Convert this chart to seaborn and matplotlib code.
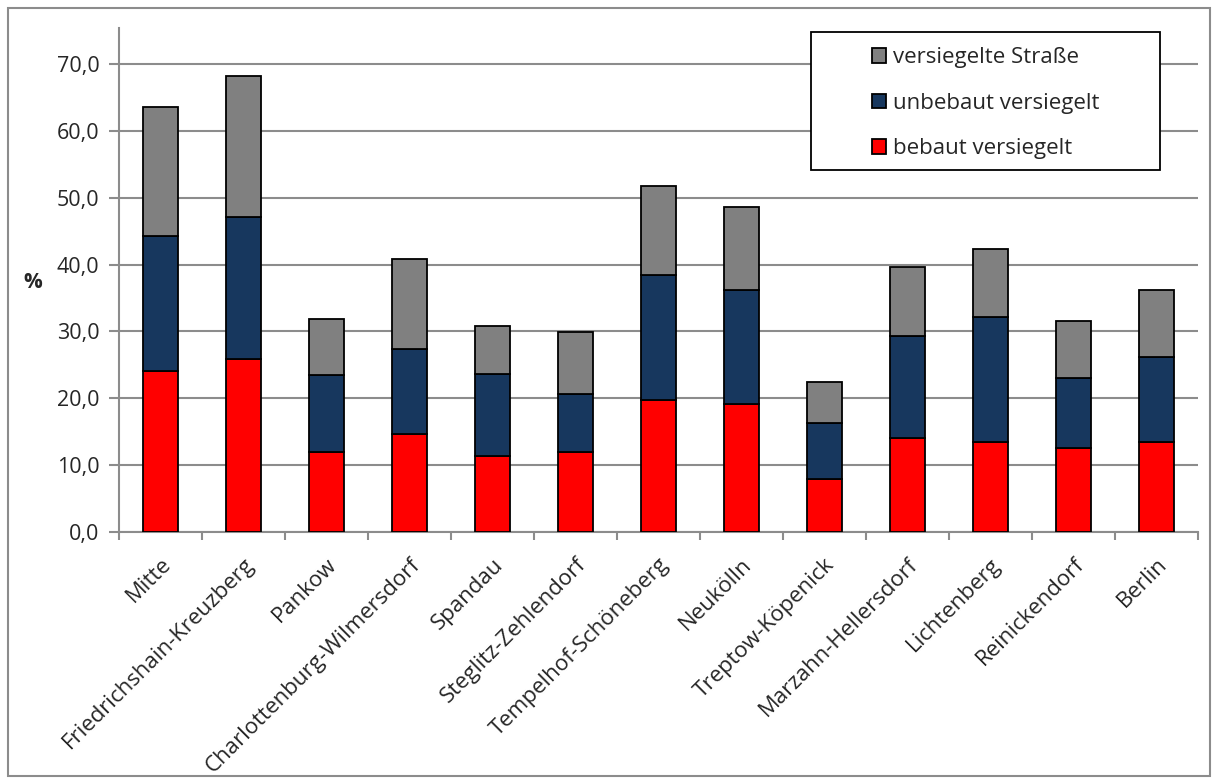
import matplotlib
matplotlib.use('Agg')
import matplotlib.pyplot as plt
from matplotlib.patches import Rectangle
import seaborn as sns
import numpy as np

# Daten (Anteile in %)
bezirke = ['Mitte', 'Friedrichshain-Kreuzberg', 'Pankow', 'Charlottenburg-Wilmersdorf',
           'Spandau', 'Steglitz-Zehlendorf', 'Tempelhof-Schöneberg', 'Neukölln',
           'Treptow-Köpenick', 'Marzahn-Hellersdorf', 'Lichtenberg', 'Reinickendorf', 'Berlin']
bebaut = [24.0, 25.8, 12.0, 14.6, 11.4, 12.0, 19.8, 19.2, 7.9, 14.0, 13.4, 12.6, 13.4]
unbebaut = [20.3, 21.4, 11.5, 12.7, 12.2, 8.7, 18.7, 17.0, 8.4, 15.3, 18.8, 10.4, 12.8]
strasse = [19.3, 21.0, 8.4, 13.5, 7.2, 9.2, 13.3, 12.4, 6.1, 10.4, 10.1, 8.6, 10.0]
yticks = [0, 10, 20, 30, 40, 50, 60, 70]

sns.set_theme(style="white")
plt.rcParams['font.family'] = ['Open Sans', 'DejaVu Sans']

fig = plt.figure(figsize=(12.12, 7.82), dpi=100)
ax = fig.add_axes([0.0982, 0.320, 0.890, 0.644])

b1 = np.array(bebaut)
b2 = b1 + np.array(unbebaut)

sns.barplot(x=bezirke, y=bebaut, color='#ff0000', edgecolor='black', linewidth=1.3,
            width=0.42, saturation=1, ax=ax, label='bebaut versiegelt', zorder=3)
sns.barplot(x=bezirke, y=unbebaut, bottom=b1, color='#17375e', edgecolor='black', linewidth=1.3,
            width=0.42, saturation=1, ax=ax, label='unbebaut versiegelt', zorder=3)
sns.barplot(x=bezirke, y=strasse, bottom=b2, color='#808080', edgecolor='black', linewidth=1.3,
            width=0.42, saturation=1, ax=ax, label='versiegelte Straße', zorder=3)

ax.set_xlim(-0.5, len(bezirke) - 0.5)
ax.set_ylim(0, 75.4)
ax.set_yticks(yticks)
ax.set_yticklabels([f'{v:.1f}'.replace('.', ',') for v in yticks], fontsize=15.5)
ax.yaxis.grid(True, color='#8c8c8c', linewidth=1.5, zorder=0)
ax.set_axisbelow(True)

# Kategoriegrenzen als Teilstriche
ax.set_xticks(np.arange(len(bezirke)))
ax.set_xticklabels(bezirke, rotation=45, ha='right', va='top', rotation_mode='anchor', fontsize=16)
ax.set_xticks(np.arange(-0.5, len(bezirke)), minor=True)
ax.tick_params(axis='x', which='major', length=0, pad=16)
ax.tick_params(axis='x', which='minor', length=6, color='#8c8c8c', width=1.5, direction='out', bottom=True)
ax.tick_params(axis='y', length=7, color='#8c8c8c', width=1.5, direction='out', left=True, pad=7)

for s in ['top', 'right']:
    ax.spines[s].set_visible(False)
for s in ['left', 'bottom']:
    ax.spines[s].set_color('#8c8c8c')
    ax.spines[s].set_linewidth(1.5)

ax.set_ylabel('%', rotation=0, fontweight='bold', fontsize=15, va='center', ha='center')
ax.yaxis.set_label_coords(-0.080, 0.494)

# Legende mit festem Rahmen
ax.add_patch(Rectangle((0.6413, 0.718), 0.3235, 0.274, transform=ax.transAxes, clip_on=False,
                       facecolor='white', edgecolor='black', linewidth=1.3, zorder=4))
handles, labels = ax.get_legend_handles_labels()
leg = ax.legend(handles[::-1], labels[::-1], loc='upper left', bbox_to_anchor=(0.698, 0.962),
                fontsize=16, frameon=False, handlelength=0.63, handleheight=0.63,
                labelspacing=1.1, borderpad=0, handletextpad=0.3, borderaxespad=0)
leg.set_zorder(5)

# Rahmen um die Grafik
fig.patches.append(Rectangle((0.007, 0.008), 0.991, 0.982, transform=fig.transFigure,
                             fill=False, edgecolor='#8c8c8c', linewidth=1.5))

fig.savefig('out.png', dpi=100)
